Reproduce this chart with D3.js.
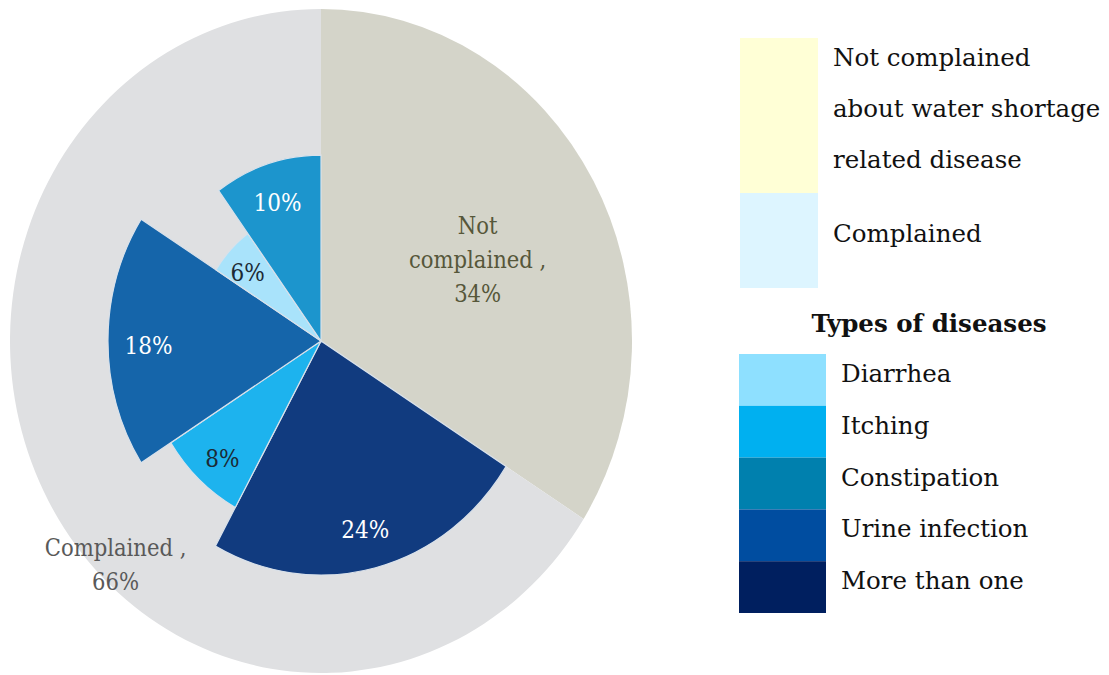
<!DOCTYPE html>
<html>
<head>
<meta charset="utf-8">
<script src="https://cdn.jsdelivr.net/npm/d3@7"></script>
<style>
  html, body { margin: 0; padding: 0; background: #ffffff; }
  svg { display: block; }
  text { font-family: "DejaVu Serif", "Liberation Serif", serif; }
</style>
</head>
<body>
<svg id="chart" width="1109" height="675"></svg>
<script>
// Share of households that complained about water-shortage related disease
const outerCategories = ["Not complained", "Complained"];
const outerValues = [34, 66];

// Breakdown of the complaining households by disease (drawn clockwise)
const diseaseCategories = ["More than one", "Itching", "Urine infection", "Diarrhea", "Constipation"];
const diseaseValues = [24, 8, 18, 6, 10];

// Legend entries
const topLegendLines = [["Not complained", "about water shortage", "related disease"], ["Complained"]];
const diseaseLegendOrder = ["Diarrhea", "Itching", "Constipation", "Urine infection", "More than one"];
const legendTitle = "Types of diseases";

// ---- styling ----
const outerFill = { "Not complained": "#d4d4c9", "Complained": "#dfe0e2" };
const sliceFill = {
  "More than one": "#113b7f",
  "Itching": "#1db3ee",
  "Urine infection": "#1565aa",
  "Diarrhea": "#a9e3fb",
  "Constipation": "#1c95cd"
};
const legendFill = {
  "Diarrhea": "#8ee0ff",
  "Itching": "#00b0f0",
  "Constipation": "#0080ae",
  "Urine infection": "#004da0",
  "More than one": "#001f5f"
};
const topLegendFill = ["#ffffd6", "#ddf5ff"];
// radial reach of each disease wedge, as a fraction of the outer radius
const sliceReach = { "More than one": 0.705, "Itching": 0.572, "Urine infection": 0.685, "Diarrhea": 0.40, "Constipation": 0.56 };
const darkLabel = { "Diarrhea": true, "Itching": true };

const svg = d3.select("#chart");
const cx = 321, cy = 341, rx = 311, ry = 332;
const squash = ry / rx;
const condense = 0.9; // horizontal squeeze for the slab serif labels

const TAU = Math.PI * 2;
const outerPie = d3.pie().sort(null).value(d => d.value).startAngle(0).endAngle(TAU);
const outerArcs = outerPie(outerCategories.map((c, i) => ({ cat: c, value: outerValues[i] })));

const splitAngle = outerArcs[0].endAngle;
const innerPie = d3.pie().sort(null).value(d => d.value).startAngle(splitAngle).endAngle(TAU);
const innerArcs = innerPie(diseaseCategories.map((c, i) => ({ cat: c, value: diseaseValues[i] })));

const rScale = d3.scaleLinear().domain([0, 1]).range([0, rx]);

const pieG = svg.append("g").attr("transform", `translate(${cx},${cy}) scale(1,${squash})`);

const outerArc = d3.arc().innerRadius(0).outerRadius(rScale(1));
pieG.selectAll("path.outer").data(outerArcs).join("path")
  .attr("class", "outer")
  .attr("d", outerArc)
  .attr("fill", d => outerFill[d.data.cat]);

const sliceArc = d3.arc().innerRadius(0).outerRadius(d => rScale(sliceReach[d.data.cat]));
pieG.selectAll("path.slice").data(innerArcs).join("path")
  .attr("class", "slice")
  .attr("d", sliceArc)
  .attr("fill", d => sliceFill[d.data.cat])
  .attr("stroke", "#d9e1ea")
  .attr("stroke-width", 1.2)
  .attr("vector-effect", "non-scaling-stroke");

// position helper in screen space (undo the vertical squash)
function polar(angle, r) {
  return [cx + Math.sin(angle) * r, cy - Math.cos(angle) * r * squash];
}

// a text block anchored at (x, y), narrowed horizontally around its centre
function condensedText(parent, x, y) {
  return parent.append("g")
    .attr("transform", `translate(${x},${y}) scale(${condense},1)`)
    .append("text")
    .attr("text-anchor", "middle");
}

// disease value labels
const labelG = svg.append("g");
innerArcs.forEach(d => {
  const mid = (d.startAngle + d.endAngle) / 2;
  const [x, y] = polar(mid, rScale(sliceReach[d.data.cat]) * 0.81);
  condensedText(labelG, x, y + 5)
    .attr("dominant-baseline", "central")
    .attr("font-size", 24)
    .attr("fill", darkLabel[d.data.cat] ? "#1b2a35" : "#ffffff")
    .text(d.data.value + "%");
});

// outer category labels
function multiLabel(lines, x, y, color) {
  const t = condensedText(labelG, x, y)
    .attr("font-size", 23.5)
    .attr("fill", color);
  lines.forEach((ln, i) => {
    t.append("tspan").attr("x", 0).attr("y", i * 34).text(ln);
  });
}
{
  const a = outerArcs[0];
  const [x, y] = polar((a.startAngle + a.endAngle) / 2 + 0.05, rScale(0.56));
  multiLabel(["Not", outerCategories[0].split(" ")[1] + " ,", outerValues[0] + "%"], x, y - 26, "#56573a");
}
{
  const [x, y] = polar(TAU * 0.624, rScale(0.94));
  multiLabel([outerCategories[1] + " ,", outerValues[1] + "%"], x, y - 7, "#595959");
}

// ---- legend ----
const legG = svg.append("g");
const topBlocks = [{ y0: 38, y1: 193, baseline: 66 }, { y0: 193, y1: 288, baseline: 242 }];
topBlocks.forEach((b, i) => {
  legG.append("rect").attr("x", 740).attr("y", b.y0).attr("width", 78).attr("height", b.y1 - b.y0)
    .attr("fill", topLegendFill[i]);
  topLegendLines[i].forEach((ln, j) => {
    legG.append("text").attr("x", 833).attr("y", b.baseline + j * 51)
      .attr("font-size", 24.5).attr("fill", "#111111").text(ln);
  });
});

legG.append("text").attr("x", 929).attr("y", 332)
  .attr("text-anchor", "middle").attr("font-weight", "bold")
  .attr("font-size", 24.5).attr("fill", "#111111").text(legendTitle);

const legY = d3.scaleBand().domain(diseaseLegendOrder).range([354, 613]).padding(0);
diseaseLegendOrder.forEach(c => {
  legG.append("rect").attr("x", 739).attr("y", legY(c)).attr("width", 87).attr("height", legY.bandwidth())
    .attr("fill", legendFill[c]);
  legG.append("text").attr("x", 841).attr("y", legY(c) + legY.bandwidth() / 2 + 2)
    .attr("font-size", 24.5).attr("fill", "#111111").text(c);
});
</script>
</body>
</html>
